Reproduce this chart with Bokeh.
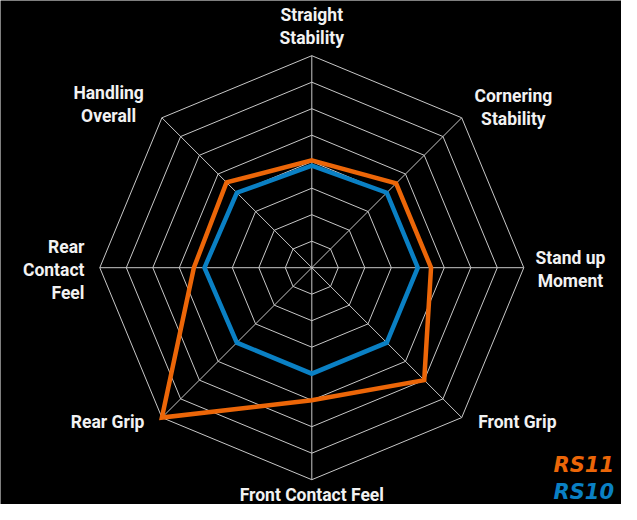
import numpy as np
from bokeh.plotting import figure
from bokeh.models import ColumnDataSource, Label
from bokeh.core.properties import value
from bokeh.embed import file_html
from bokeh.resources import INLINE

# ---- data ----
categories = ["Straight\nStability", "Cornering\nStability", "Stand up\nMoment",
              "Front Grip", "Front Contact Feel", "Rear Grip",
              "Rear\nContact\nFeel", "Handling\nOverall"]
series_names = ["RS11", "RS10"]
rs11 = [4.05, 4.5, 4.5, 6.0, 5.0, 8.0, 4.45, 4.55]
rs10 = [3.85, 4.0, 4.0, 4.0, 4.0, 4.0, 4.05, 4.0]
grid_levels = [1, 2, 3, 4, 5, 6, 7, 8]

# ---- style / layout ----
ORANGE = "#EC6608"
BLUE = "#0A80C4"
GRID = "#C8C8C8"
W, H = 621, 504
SCALE = 26.5                 # px per unit
CX, CY = 311.3, 267.2        # centre in plot pixels (from top-left)

# label offsets (units) from outer vertex, and alignment
label_offsets = [(0, 1.12), (1.95, 0.37), (1.76, -0.05), (2.1, -0.18),
                 (0, -0.58), (-2.05, -0.18), (-0.58, -0.09), (-2.01, 0.52)]
label_align = ["center", "center", "center", "center", "center", "center", "right", "center"]

n = len(categories)
angles = np.pi / 2 - np.arange(n) * 2 * np.pi / n

p = figure(width=W, height=H, output_backend="svg", toolbar_location=None,
           x_range=(-CX / SCALE, (W - CX) / SCALE),
           y_range=(-(H - CY) / SCALE, CY / SCALE),
           min_border=0, background_fill_color="black", border_fill_color="black")
p.axis.visible = False
p.grid.visible = False
p.outline_line_color = None

# grid rings
gx, gy = [], []
for lv in grid_levels:
    gx.append(list(lv * np.cos(angles)) + [lv * np.cos(angles[0])])
    gy.append(list(lv * np.sin(angles)) + [lv * np.sin(angles[0])])
p.multi_line(gx, gy, line_color=GRID, line_width=1)
rmax = max(grid_levels)
p.segment(x0=[0] * n, y0=[0] * n, x1=list(rmax * np.cos(angles)), y1=list(rmax * np.sin(angles)),
          line_color=GRID, line_width=1)

# series
for vals, col in [(rs10, BLUE), (rs11, ORANGE)]:
    v = np.array(vals)
    xs = list(v * np.cos(angles))
    ys = list(v * np.sin(angles))
    p.patch(xs, ys, fill_alpha=0, line_color=col, line_width=4.5, line_join="miter")

# axis labels
lx = [rmax * np.cos(a) + o[0] for a, o in zip(angles, label_offsets)]
ly = [rmax * np.sin(a) + o[1] for a, o in zip(angles, label_offsets)]
src = ColumnDataSource(dict(x=lx, y=ly, t=categories, al=label_align))
p.text(x="x", y="y", text="t", source=src, text_align="al", text_baseline="middle",
       text_color="#F2F2F2", text_font=value("Roboto"), text_font_style="bold",
       text_font_size="17.5px", text_line_height=1.15)

# legend-like brand text
for name, col, yy in zip(series_names, [ORANGE, BLUE], [40, 13]):
    p.add_layout(Label(x=553, y=yy, x_units="screen", y_units="screen", text=name,
                       text_color=col, text_font="DejaVu Sans", text_font_style="bold italic",
                       text_font_size="21px", text_baseline="middle"))

open("out.html", "w").write(file_html(p, INLINE))
